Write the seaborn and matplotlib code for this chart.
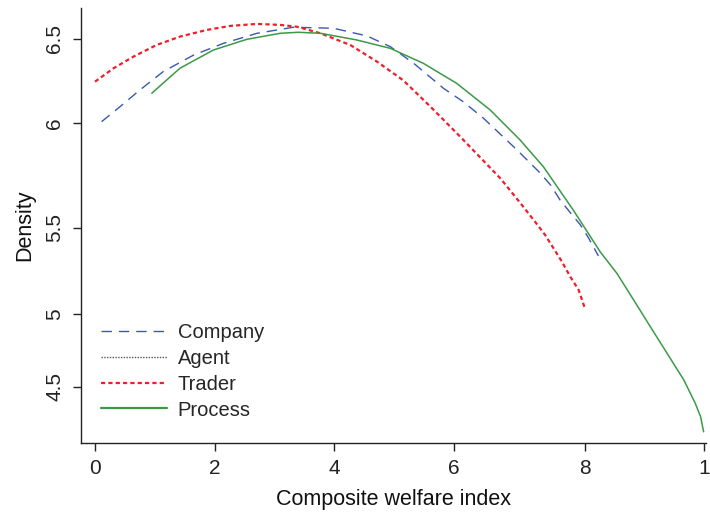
import matplotlib
matplotlib.use("Agg")
import numpy as np
import pandas as pd
import seaborn as sns
import matplotlib.pyplot as plt
from matplotlib.lines import Line2D

# ---- data ----
company_x = [0.11, 0.42, 0.75, 1.14, 1.65, 2.15, 2.71, 3.32, 3.99, 4.55, 4.94, 5.33, 5.83,
             6.16, 6.50, 7.06, 7.45, 7.62, 7.78, 7.95, 8.12, 8.26, 8.42]
company_y = [6.006, 6.096, 6.195, 6.305, 6.404, 6.474, 6.534, 6.570, 6.564, 6.518, 6.454,
             6.355, 6.205, 6.125, 6.026, 5.837, 5.698, 5.628, 5.538, 5.463, 5.389, 5.309,
             5.204]

trader_x = [0.00, 0.31, 0.64, 1.03, 1.42, 1.87, 2.26, 2.71, 3.10, 3.38, 3.77, 4.27, 4.72,
            5.16, 5.61, 6.11, 6.78, 7.11, 7.36, 7.53, 7.67, 7.81, 7.95, 8.09, 8.20]
trader_y = [6.245, 6.325, 6.394, 6.464, 6.514, 6.554, 6.578, 6.590, 6.584, 6.573, 6.534,
            6.464, 6.364, 6.252, 6.096, 5.916, 5.668, 5.522, 5.409, 5.329, 5.250, 5.170,
            5.080, 5.001, 4.885]

process_x = [0.95, 1.42, 1.98, 2.54, 3.10, 3.40, 3.77, 4.38, 4.94, 5.49, 6.05, 6.61, 7.11,
             7.50, 8.00, 8.45, 8.73, 9.01, 9.29, 9.57, 9.85, 10.04, 10.13, 10.18]
process_y = [6.176, 6.325, 6.434, 6.498, 6.534, 6.540, 6.534, 6.494, 6.444, 6.355, 6.235,
             6.076, 5.897, 5.737, 5.478, 5.229, 5.100, 4.941, 4.781, 4.622, 4.463, 4.324,
             4.244, 4.154]

agent_x = []
agent_y = []

series_names = ["Company", "Agent", "Trader", "Process"]

x_tick_pos = [0, 2, 4, 6, 8.2, 10.19]
x_tick_labels = ["0", "2", "4", "6", "8", "1"]
y_tick_pos = [6.5, 6.0, 5.373, 4.855, 4.423]
y_tick_labels = ["6.5", "6", "5.5", "5", "4.5"]

# ---- style ----
sns.set_theme(style="ticks")
plt.rcParams['font.family'] = ['Liberation Sans', 'DejaVu Sans']

fig = plt.figure(figsize=(7.1, 5.14), dpi=100)
ax = fig.add_axes([81 / 710, 1 - 443 / 514, 625 / 710, 435 / 514])

c_blue = "#3a58b0"
c_red = "#ee1f2a"
c_green = "#3a9a46"
c_gray = "#555555"

blue_ls = (0, (7.5, 5))
red_ls = (0, (1.9, 1.4))

df_c = pd.DataFrame({"x": company_x, "y": company_y})
df_t = pd.DataFrame({"x": trader_x, "y": trader_y})
df_p = pd.DataFrame({"x": process_x, "y": process_y})

sns.lineplot(data=df_c, x="x", y="y", ax=ax, color=c_blue, lw=1.0, sort=False,
             estimator=None, linestyle=blue_ls)
sns.lineplot(data=df_t, x="x", y="y", ax=ax, color=c_red, lw=1.6, sort=False,
             estimator=None, linestyle=red_ls)
sns.lineplot(data=df_p, x="x", y="y", ax=ax, color=c_green, lw=1.1, sort=False,
             estimator=None)
ax.plot(agent_x, agent_y, color=c_gray, lw=1.0, linestyle=(0, (1, 1)))

ax.set_xlim(-0.234, 10.22)
ax.set_ylim(4.087, 6.685)
ax.set_xticks(x_tick_pos)
ax.set_xticklabels(x_tick_labels)
ax.set_yticks(y_tick_pos)
ax.set_yticklabels(y_tick_labels, rotation=90, va="center")

ax.tick_params(axis="both", labelsize=15, length=6, width=1, colors="#222222",
               direction="out")
ax.tick_params(axis="x", pad=5.5)
ax.tick_params(axis="y", pad=6)
for s in ["top", "right"]:
    ax.spines[s].set_visible(False)
for s in ["left", "bottom"]:
    ax.spines[s].set_color("#222222")
    ax.spines[s].set_linewidth(1.0)

ax.set_xlabel("Composite welfare index", fontsize=15.5, labelpad=8, color="#111111")
ax.set_ylabel("Density", fontsize=15.5, labelpad=7, color="#111111")

handles = [
    Line2D([], [], color=c_blue, lw=1.0, linestyle=blue_ls),
    Line2D([], [], color=c_gray, lw=1.0, linestyle=(0, (1, 1))),
    Line2D([], [], color=c_red, lw=1.6, linestyle=red_ls),
    Line2D([], [], color=c_green, lw=1.6),
]
fig.legend(handles, series_names, loc="upper left",
           bbox_to_anchor=(101 / 710, 1 - 323 / 514), frameon=False, fontsize=14.5,
           handlelength=3.3, handletextpad=0.5, labelspacing=0.34, borderpad=0,
           borderaxespad=0)

fig.savefig("out.png", dpi=100)
